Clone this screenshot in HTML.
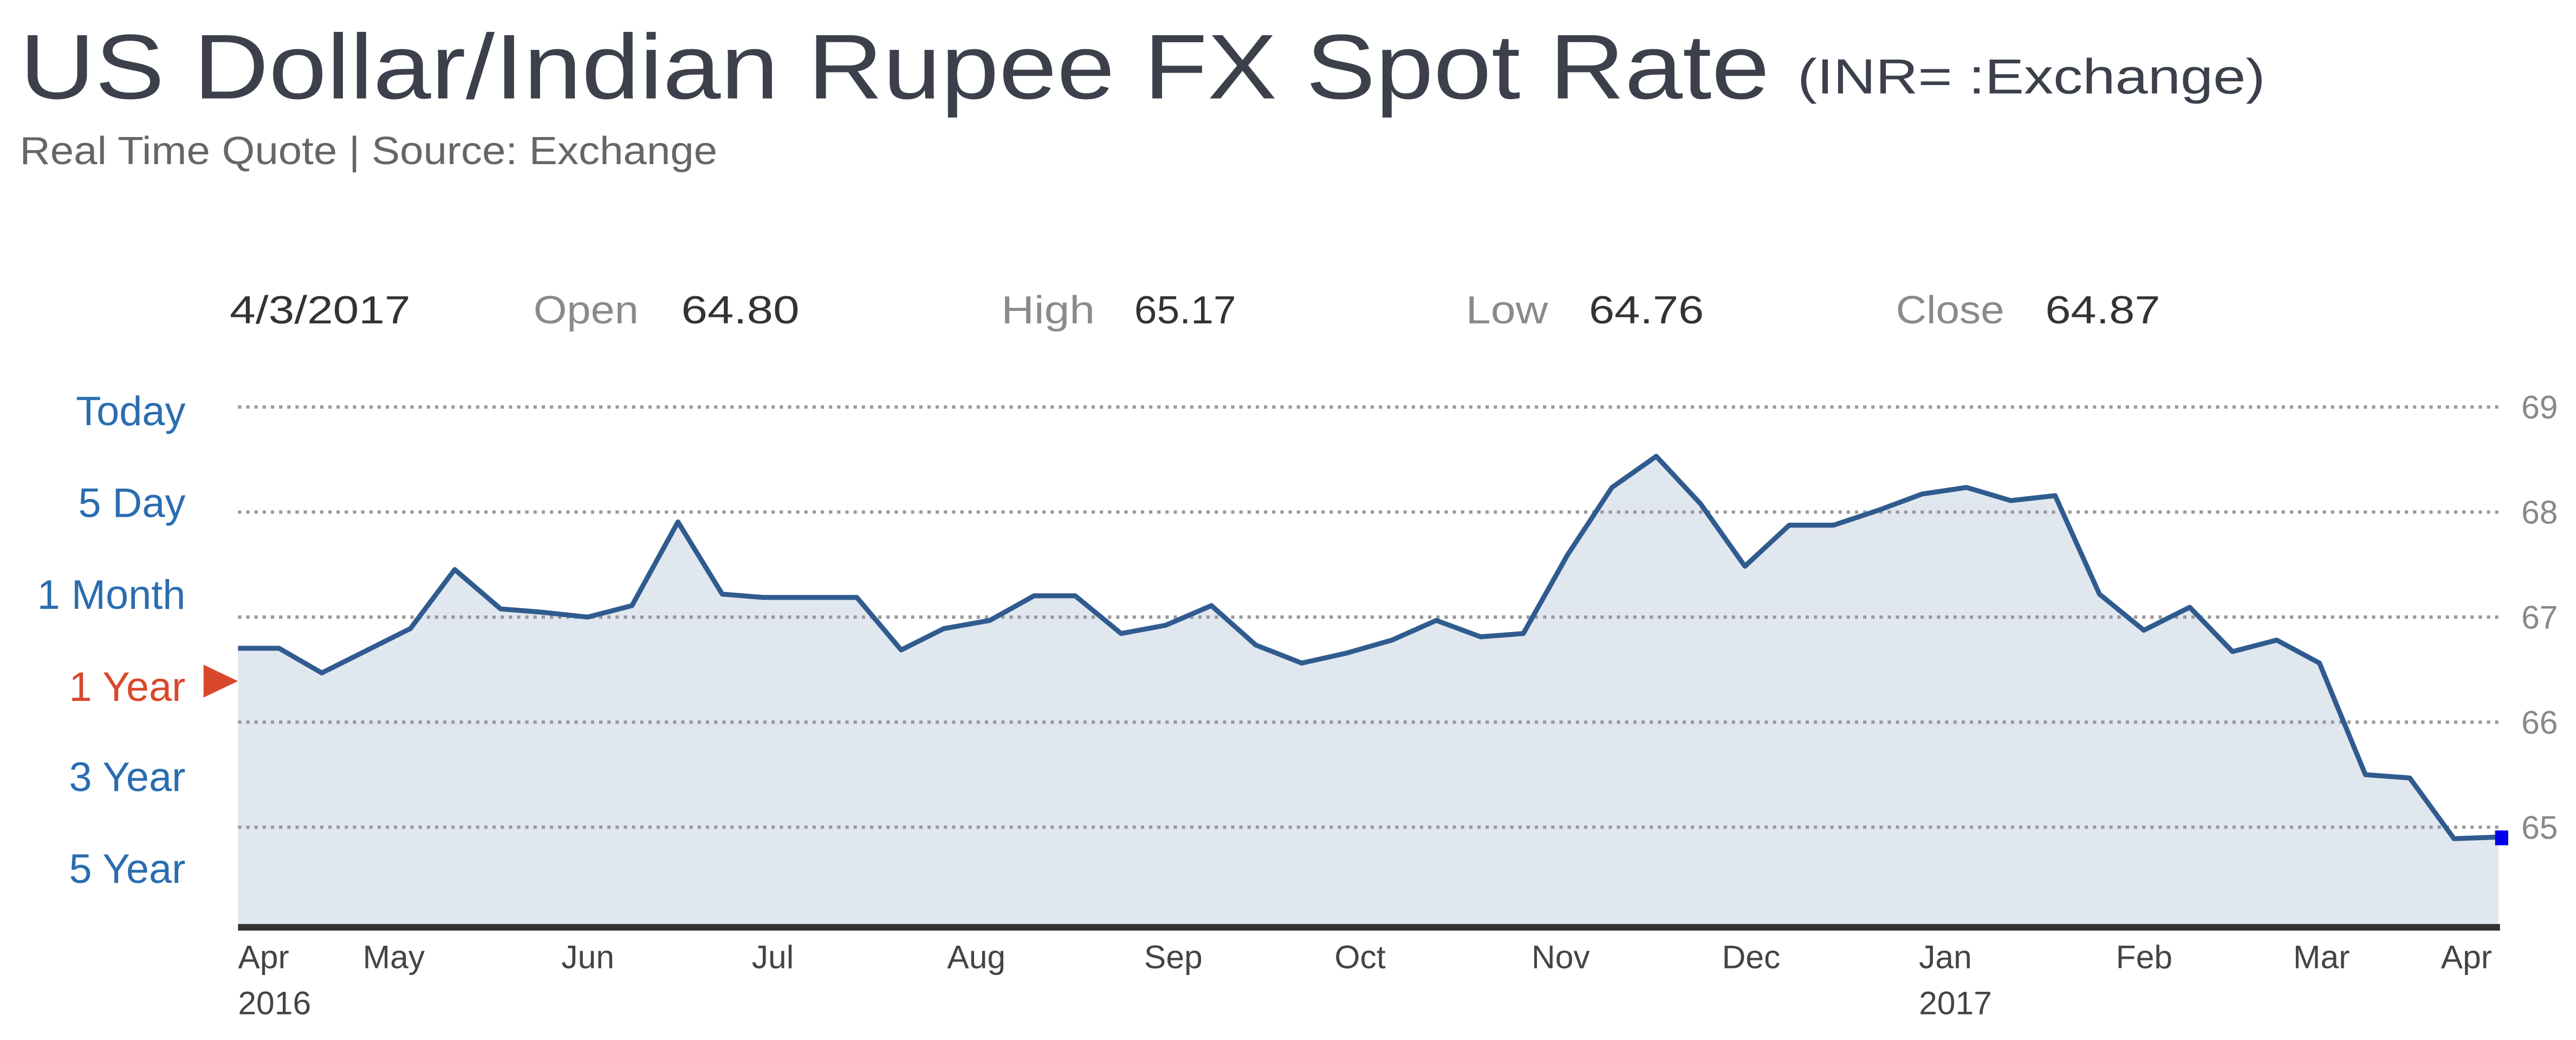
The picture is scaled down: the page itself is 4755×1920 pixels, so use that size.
<!DOCTYPE html>
<html><head><meta charset="utf-8"><style>
html,body{margin:0;padding:0;background:#fff;}
svg{display:block;}
text{font-family:"Liberation Sans",sans-serif;}
</style></head><body>
<svg width="4755" height="1920" viewBox="0 0 1569.3 633.66" preserveAspectRatio="none" xmlns="http://www.w3.org/2000/svg">
<rect width="1569.3" height="633.66" fill="#fff"/>
<text x="12" y="60" font-size="56" fill="#3b404b" textLength="1066" lengthAdjust="spacingAndGlyphs">US Dollar/Indian Rupee FX Spot Rate</text>
<text x="1095" y="57" font-size="30" fill="#3b404b" textLength="285" lengthAdjust="spacingAndGlyphs">(INR= :Exchange)</text>
<text x="12" y="100" font-size="24" fill="#666" textLength="425" lengthAdjust="spacingAndGlyphs">Real Time Quote | Source: Exchange</text>

<g font-size="24">
<text x="140" y="197" fill="#333" textLength="110" lengthAdjust="spacingAndGlyphs">4/3/2017</text>
<text x="325" y="197" fill="#8a8a8a" textLength="64" lengthAdjust="spacingAndGlyphs">Open</text>
<text x="415" y="197" fill="#333" textLength="72" lengthAdjust="spacingAndGlyphs">64.80</text>
<text x="610" y="197" fill="#8a8a8a" textLength="57" lengthAdjust="spacingAndGlyphs">High</text>
<text x="691" y="197" fill="#333" textLength="62" lengthAdjust="spacingAndGlyphs">65.17</text>
<text x="893" y="197" fill="#8a8a8a" textLength="50" lengthAdjust="spacingAndGlyphs">Low</text>
<text x="968" y="197" fill="#333" textLength="70" lengthAdjust="spacingAndGlyphs">64.76</text>
<text x="1155" y="197" fill="#8a8a8a" textLength="66" lengthAdjust="spacingAndGlyphs">Close</text>
<text x="1246" y="197" fill="#333" textLength="70" lengthAdjust="spacingAndGlyphs">64.87</text>
</g>

<g font-size="25" text-anchor="end" fill="#2a6db0">
<text x="113" y="259">Today</text>
<text x="113" y="315">5 Day</text>
<text x="113" y="371">1 Month</text>
<text x="113" y="427" fill="#d9482b">1 Year</text>
<text x="113" y="482">3 Year</text>
<text x="113" y="538">5 Year</text>
</g>
<polygon points="124,405 145,415 124,425" fill="#d9482b"/>

<polygon fill="#e1e7ef" points="145,395 170,395 196,410 222,397 250,383 277,347 305,371 330,373 358,376 385,369 413,318 440,362 465,364 495,364 522,364 549,396 575,383 603,378 630,363 655,363 683,386 710,381 738,369 765,393 793,404 820,398 848,390 875,378 902,388 928,386 955,338 982,297 1009,278 1036,307 1063,345 1090,320 1117,320 1144,311 1171,301 1198,297 1225,305 1252,302 1279,362 1306,384 1334,370 1360,397 1387,390 1413,404 1441,472 1468,474 1495,511 1522,510 1522,564 145,564"/>

<g stroke="#999" stroke-width="2" stroke-dasharray="2,3">
<line x1="145" y1="248" x2="1522" y2="248"/>
<line x1="145" y1="312" x2="1522" y2="312"/>
<line x1="145" y1="376" x2="1522" y2="376"/>
<line x1="145" y1="440" x2="1522" y2="440"/>
<line x1="145" y1="504" x2="1522" y2="504"/>
</g>
<g font-size="20" fill="#888">
<text x="1536" y="255">69</text>
<text x="1536" y="319">68</text>
<text x="1536" y="383">67</text>
<text x="1536" y="447">66</text>
<text x="1536" y="511">65</text>
</g>

<polyline fill="none" stroke="#2f5b8f" stroke-width="3" stroke-linejoin="round" points="145,395 170,395 196,410 222,397 250,383 277,347 305,371 330,373 358,376 385,369 413,318 440,362 465,364 495,364 522,364 549,396 575,383 603,378 630,363 655,363 683,386 710,381 738,369 765,393 793,404 820,398 848,390 875,378 902,388 928,386 955,338 982,297 1009,278 1036,307 1063,345 1090,320 1117,320 1144,311 1171,301 1198,297 1225,305 1252,302 1279,362 1306,384 1334,370 1360,397 1387,390 1413,404 1441,472 1468,474 1495,511 1522,510"/>
<rect x="1520" y="506" width="8" height="9" fill="#0000ee"/>

<rect x="145" y="563" width="1378" height="4" fill="#333"/>

<g font-size="20" fill="#444">
<text x="145" y="590">Apr</text>
<text x="221" y="590">May</text>
<text x="342" y="590">Jun</text>
<text x="458" y="590">Jul</text>
<text x="577" y="590">Aug</text>
<text x="697" y="590">Sep</text>
<text x="813" y="590">Oct</text>
<text x="933" y="590">Nov</text>
<text x="1049" y="590">Dec</text>
<text x="1169" y="590">Jan</text>
<text x="1289" y="590">Feb</text>
<text x="1397" y="590">Mar</text>
<text x="1487" y="590">Apr</text>
<text x="145" y="618">2016</text>
<text x="1169" y="618">2017</text>
</g>
</svg>
</body></html>
